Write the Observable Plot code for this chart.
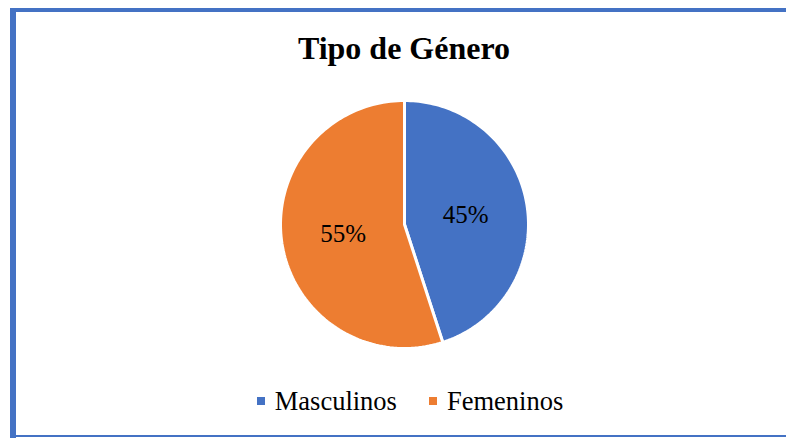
<!DOCTYPE html>
<html>
<head>
<meta charset="utf-8">
<script src="https://cdn.jsdelivr.net/npm/d3@7"></script>
<script src="https://cdn.jsdelivr.net/npm/@observablehq/plot@0.6"></script>
<style>
  html, body { margin: 0; padding: 0; background: #fff; overflow: hidden; }
  body { width: 786px; height: 438px; position: relative; font-family: "Liberation Serif", serif; }
  .bl { position: absolute; left: 10px; top: 8px; width: 6px; height: 430px; background: #4472C4; }
  .bt { position: absolute; left: 10px; top: 8px; width: 776px; height: 4px; background: #4472C4; }
  .bb { position: absolute; left: 10px; top: 435px; width: 776px; height: 2px; background: #4472C4; }
  .title { position: absolute; left: 0; width: 808px; top: 30px; text-align: center;
           font-weight: bold; font-size: 32px; line-height: 36px; color: #000; }
  #chart { position: absolute; left: 16px; top: 80px; line-height: 0; }
  .legend { position: absolute; top: 386px; left: 6px; width: 808px; text-align: center; font-size: 26.5px; line-height: 30px; color: #000; }
  .legend span.item { display: inline-block; margin: 0 16px; }
  .legend span.sw { display: inline-block; width: 8px; height: 8px; margin-right: 10px; vertical-align: 5px; }
</style>
</head>
<body>
<div class="bl"></div><div class="bt"></div><div class="bb"></div>
<div class="title">Tipo de Género</div>
<div id="chart"></div>
<div class="legend" id="legend"></div>
<script>
const categories = ["Masculinos", "Femeninos"];
const values = [45, 55];
const labels = ["45%", "55%"];
const colors = ["#4472C4", "#ED7D31"];

const W = 770, H = 300, cx = 388, cy = 144, R = 124;

const pie = d3.pie().sort(null).value(d => d.value)(categories.map((c, i) => ({cat: c, value: values[i], label: labels[i]})));

const arcPts = [];
pie.forEach(a => {
  arcPts.push({cat: a.data.cat, x: 0, y: 0});
  const n = 120;
  for (let k = 0; k <= n; k++) {
    const t = a.startAngle + (a.endAngle - a.startAngle) * k / n;
    arcPts.push({cat: a.data.cat, x: Math.sin(t), y: Math.cos(t)});
  }
});
const labelPts = pie.map(a => {
  const m = (a.startAngle + a.endAngle) / 2;
  return {label: a.data.label, x: 0.5 * Math.sin(m), y: 0.5 * Math.cos(m)};
});

const chart = Plot.plot({
  width: W, height: H,
  margin: 0,
  x: {domain: [-cx / R, (W - cx) / R], range: [0, W], axis: null},
  y: {domain: [-(H - cy) / R, cy / R], range: [H, 0], axis: null},
  color: {domain: categories, range: colors},
  style: {background: "transparent", fontFamily: "Liberation Serif, serif"},
  marks: [
    Plot.line(arcPts, {x: "x", y: "y", z: "cat", fill: "cat", stroke: "#fff", strokeWidth: 3, curve: "linear-closed", strokeLinejoin: "miter"}),
    Plot.text(labelPts, {x: "x", y: "y", text: "label", fontSize: 25, fill: "#000", fontFamily: "Liberation Serif, serif"})
  ]
});
document.getElementById("chart").appendChild(chart);

const leg = document.getElementById("legend");
categories.forEach((c, i) => {
  const item = document.createElement("span");
  item.className = "item";
  const sw = document.createElement("span");
  sw.className = "sw";
  sw.style.background = colors[i];
  item.appendChild(sw);
  item.appendChild(document.createTextNode(c));
  leg.appendChild(item);
});
</script>
</body>
</html>
